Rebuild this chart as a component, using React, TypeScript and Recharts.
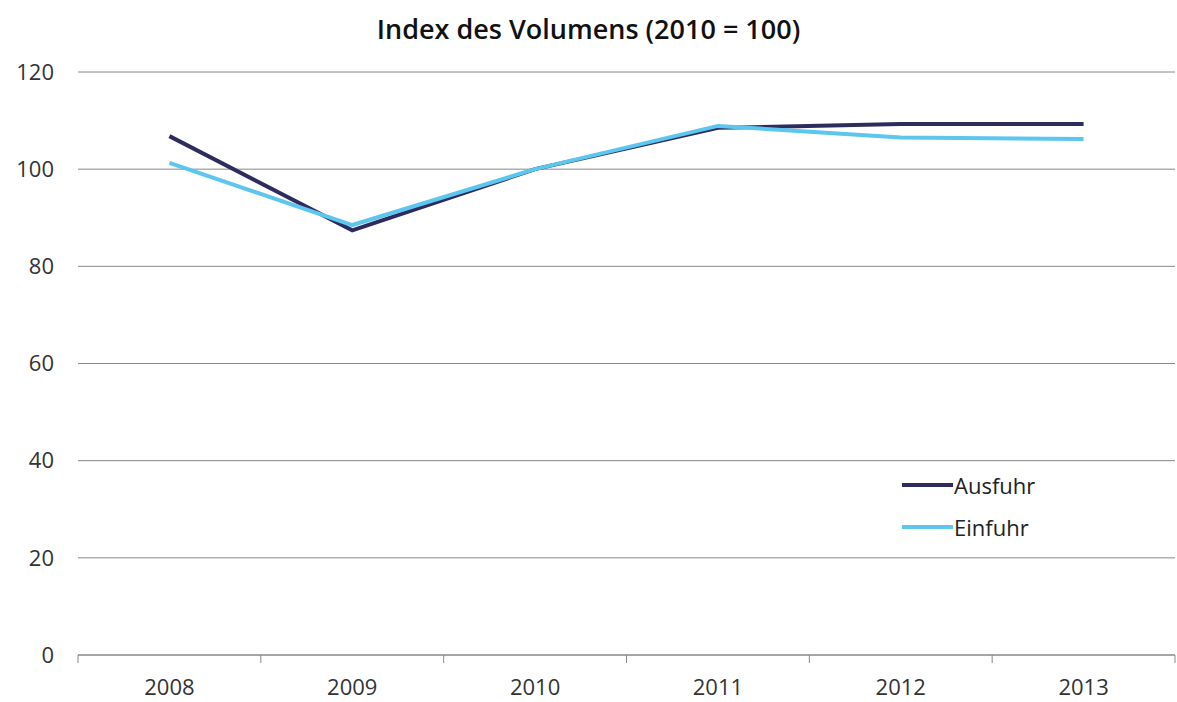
import { CartesianGrid, Line, LineChart, XAxis, YAxis } from "recharts";

const years = ["2008", "2009", "2010", "2011", "2012", "2013"];
const ausfuhr = [106.8, 87.4, 100, 108.5, 109.3, 109.3];
const einfuhr = [101.3, 88.5, 100, 108.9, 106.5, 106.2];
const yTicks = [0, 20, 40, 60, 80, 100, 120];
const seriesNames = ["Ausfuhr", "Einfuhr"];
const seriesColors = ["#2e2c5e", "#5cc6ef"];

const data = years.map((year, i) => ({
  year,
  Ausfuhr: ausfuhr[i],
  Einfuhr: einfuhr[i],
}));

const W = 1177;
const H = 702;
const YW = 78;
const XH = 47;
const M = { top: 72, right: 2, bottom: 0, left: 0 };
const band = (W - YW - M.right) / years.length;

const FONT = "'Open Sans', 'DejaVu Sans', sans-serif";

function YearTick(props: any) {
  const { x, y, payload, index } = props;
  const left = x - band / 2;
  return (
    <g>
      <line x1={left} y1={y - 8} x2={left} y2={y} stroke="#888" />
      {index === years.length - 1 && (
        <line x1={x + band / 2} y1={y - 8} x2={x + band / 2} y2={y} stroke="#888" />
      )}
      <text x={x} y={y + 32} textAnchor="middle" fill="#333" fontSize={22} fontFamily={FONT}>
        {payload.value}
      </text>
    </g>
  );
}

export default function App() {
  return (
    <div style={{ position: "absolute", left: 0, top: 0, width: W, height: H, background: "#fff" }}>
      <div
        style={{
          position: "absolute",
          top: 10,
          left: 0,
          width: W,
          textAlign: "center",
          fontFamily: FONT,
          fontWeight: 600,
          fontSize: 27,
          color: "#111",
        }}
      >
        Index des Volumens (2010 = 100)
      </div>
      <LineChart width={W} height={H} data={data} margin={M}>
        <CartesianGrid vertical={false} stroke="#888" />
        <XAxis
          dataKey="year"
          height={XH}
          axisLine={{ stroke: "#888" }}
          tickLine={false}
          tick={<YearTick />}
          interval={0}
          padding={{ left: band / 2, right: band / 2 }}
        />
        <YAxis
          domain={[0, 120]}
          ticks={yTicks}
          axisLine={false}
          tickLine={false}
          width={YW}
          tick={{ fontSize: 22, fill: "#333", fontFamily: FONT, dx: -16 }}
        />
        <Line
          dataKey="Ausfuhr"
          stroke={seriesColors[0]}
          strokeWidth={4}
          dot={false}
          isAnimationActive={false}
        />
        <Line
          dataKey="Einfuhr"
          stroke={seriesColors[1]}
          strokeWidth={4}
          dot={false}
          isAnimationActive={false}
        />
      </LineChart>
      <div style={{ position: "absolute", left: 902, top: 464 }}>
        {seriesNames.map((name, i) => (
          <div key={name} style={{ display: "flex", alignItems: "center", height: 42 }}>
            <div style={{ width: 51, height: 4, background: seriesColors[i] }} />
            <span style={{ fontFamily: FONT, fontSize: 22, color: "#222", marginLeft: 1 }}>{name}</span>
          </div>
        ))}
      </div>
    </div>
  );
}
